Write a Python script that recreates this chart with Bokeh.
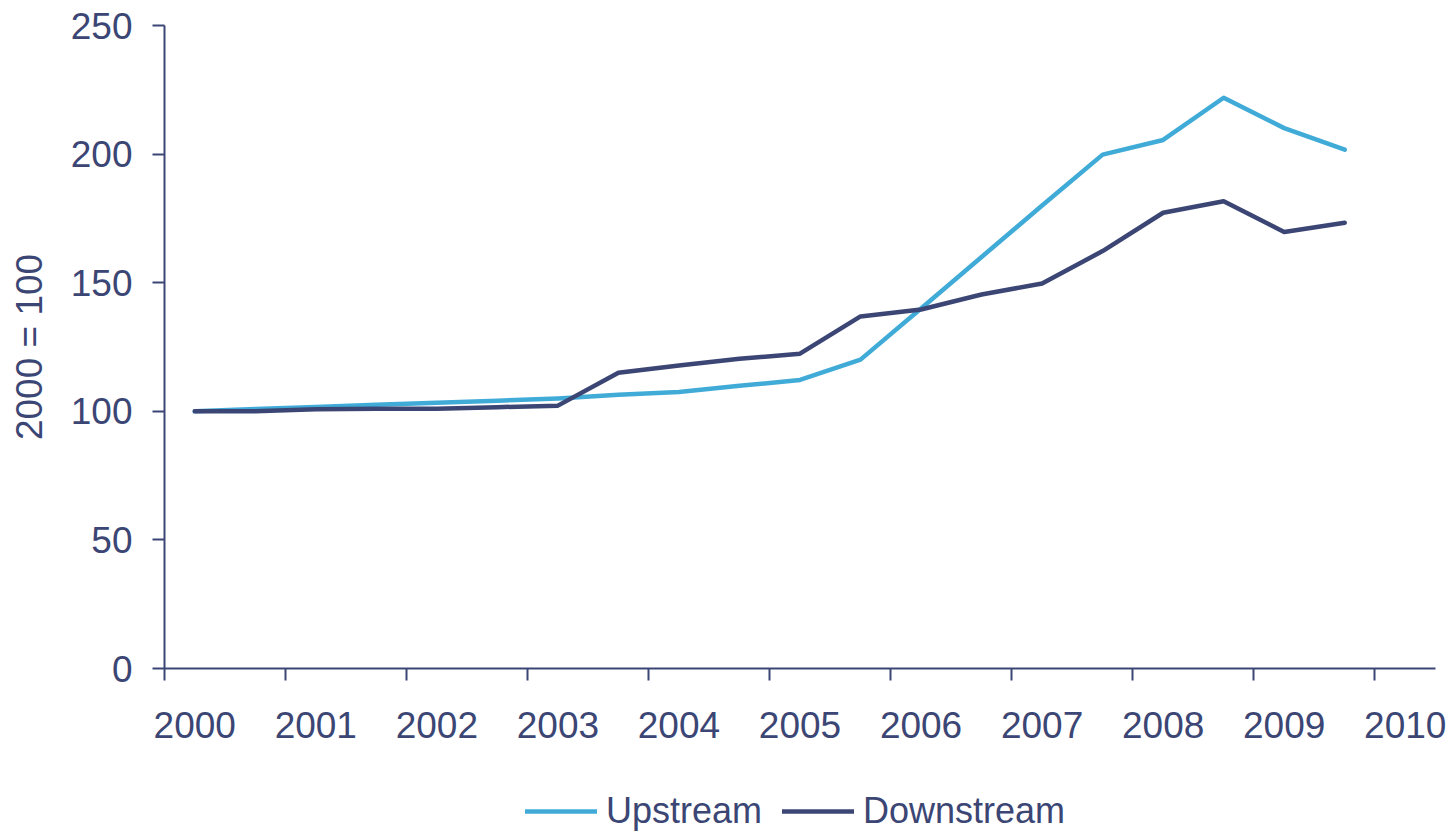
from bokeh.plotting import figure
from bokeh.layouts import column
from bokeh.models import (FixedTicker, Legend, LegendItem, Range1d, LinearAxis,
                          CustomJSTickFormatter)
from bokeh.embed import file_html
from bokeh.resources import INLINE

# Half-year observation points, index 2000 = 100
periods = [2000.25, 2000.75, 2001.25, 2001.75, 2002.25, 2002.75, 2003.25,
           2003.75, 2004.25, 2004.75, 2005.25, 2005.75, 2006.25, 2006.75,
           2007.25, 2007.75, 2008.25, 2008.75, 2009.25, 2009.75]
upstream = [100, 100.9, 101.7, 102.5, 103.3, 104.1, 105.0,
            106.4, 107.5, 109.9, 112.2, 120.1, 140.0, 160.0,
            180.0, 199.8, 205.5, 221.9, 210.1, 201.7]
downstream = [100, 100, 100.8, 101.0, 101.0, 101.6, 102.2,
              115.0, 117.8, 120.4, 122.4, 136.9, 139.6, 145.4,
              149.7, 162.3, 177.2, 181.7, 169.7, 173.3]

year_ticks = list(range(2000, 2011))
# year labels sit a quarter-year to the right of their tick marks
year_label_pos = [y + 0.25 for y in year_ticks]
value_ticks = [0, 50, 100, 150, 200, 250]

NAVY = "#3B4674"
BLUE = "#41ABD8"
FONT = "Liberation Sans"
LINE_W = 4.5

p = figure(width=1449, height=760, output_backend="svg", toolbar_location=None,
           x_range=Range1d(2000, 2010.5), y_range=Range1d(0, 250),
           min_border_left=164, min_border_right=14, min_border_top=25,
           min_border_bottom=92)
p.outline_line_color = None
p.xgrid.visible = False
p.ygrid.visible = False

r_up = p.line(periods, upstream, line_color=BLUE, line_width=LINE_W,
              line_join="round", line_cap="round")
r_down = p.line(periods, downstream, line_color=NAVY, line_width=LINE_W,
                line_join="round", line_cap="round")

for ax in (p.xaxis[0], p.yaxis[0]):
    ax.axis_line_color = NAVY
    ax.axis_line_width = 2
    ax.major_tick_line_color = NAVY
    ax.major_tick_line_width = 2
    ax.major_tick_in = 0
    ax.major_tick_out = 12
    ax.minor_tick_line_color = None
    ax.major_label_text_font = FONT
    ax.major_label_text_font_size = "37px"
    ax.major_label_text_color = NAVY
    ax.major_label_standoff = 20

# x axis: tick marks only
xa = p.xaxis[0]
xa.ticker = FixedTicker(ticks=year_ticks)
xa.formatter = CustomJSTickFormatter(code="return ''")
xa.major_label_text_font_size = "1px"
xa.major_label_standoff = 0

# second x axis carrying the year labels
xl = LinearAxis(ticker=FixedTicker(ticks=year_label_pos),
                formatter=CustomJSTickFormatter(code="return Math.floor(tick).toFixed(0)"),
                axis_line_color=None, major_tick_line_color=None,
                minor_tick_line_color=None, major_tick_in=0, major_tick_out=0,
                major_label_standoff=31, major_label_text_font=FONT,
                major_label_text_font_size="37px", major_label_text_color=NAVY)
p.add_layout(xl, "below")

p.yaxis[0].ticker = FixedTicker(ticks=value_ticks)
p.yaxis[0].axis_label = "2000 = 100"
p.yaxis[0].axis_label_text_font = FONT
p.yaxis[0].axis_label_text_font_size = "37px"
p.yaxis[0].axis_label_text_font_style = "normal"
p.yaxis[0].axis_label_text_color = NAVY
p.yaxis[0].axis_label_standoff = 18

# Legend strip underneath the chart; its key renderers hold a single point
# each, so only the legend swatches are drawn
lg = figure(width=1449, height=72, output_backend="svg", toolbar_location=None,
            x_axis_type=None, y_axis_type=None,
            min_border_left=164, min_border_right=14, min_border_top=0,
            min_border_bottom=0)
lg.outline_line_color = None
lg.xgrid.visible = False
lg.ygrid.visible = False
k_up = lg.line(periods[:1], upstream[:1], line_color=BLUE, line_width=LINE_W,
               line_cap="round")
k_down = lg.line(periods[:1], downstream[:1], line_color=NAVY, line_width=LINE_W,
                 line_cap="round")

legend = Legend(items=[LegendItem(label="Upstream", renderers=[k_up]),
                       LegendItem(label="Downstream", renderers=[k_down])],
                orientation="horizontal", location=(361, 0),
                label_text_font=FONT, label_text_font_size="36px",
                label_text_color=NAVY, glyph_width=72, glyph_height=40,
                label_standoff=9, spacing=20, padding=0, margin=0,
                border_line_color=None, background_fill_alpha=0)
lg.add_layout(legend, "center")

layout = column(p, lg, spacing=0)
open("out.html", "w").write(file_html(layout, INLINE))
